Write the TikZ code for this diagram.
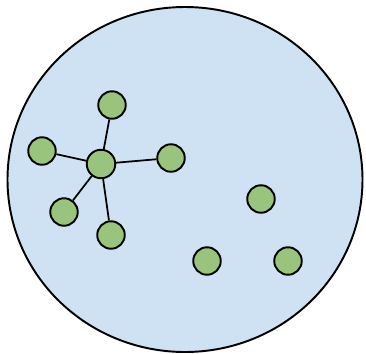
\documentclass[tikz,border=0pt]{standalone}
\usepackage{tikz}
\definecolor{PoolBlue}{RGB}{207,226,243}
\definecolor{VertexGreen}{RGB}{152,196,125}

\begin{document}
\begin{tikzpicture}[
    x=0.02cm, y=-0.02cm,
    pool/.style={
        draw=black,
        line width=1.1pt,
        fill=PoolBlue
    },
    vertex/.style={
        circle,
        draw=black,
        line width=1.1pt,
        fill=VertexGreen,
        inner sep=0pt,
        minimum size=0.55cm
    },
    link/.style={
        line width=1pt
    }
]

\useasboundingbox (0,0) rectangle (366,353);

\draw[pool] (185,179.5) ellipse [x radius=177.5, y radius=172.5];

% connected group
\node[vertex, minimum size=0.57cm] (hub) at (101,164) {};
\node[vertex] (top)       at (112,105) {};
\node[vertex] (left)      at (42,151)  {};
\node[vertex] (right)     at (171,158) {};
\node[vertex] (lowerleft) at (64,212)  {};
\node[vertex] (bottom)    at (111,235) {};

% isolated vertices
\node[vertex] (lone1) at (261,199) {};
\node[vertex] (lone2) at (207,261) {};
\node[vertex] (lone3) at (288,261) {};

\draw[link] (hub) -- (top);
\draw[link] (hub) -- (left);
\draw[link] (hub) -- (right);
\draw[link] (hub) -- (lowerleft);
\draw[link] (hub) -- (bottom);

\end{tikzpicture}
\end{document}
